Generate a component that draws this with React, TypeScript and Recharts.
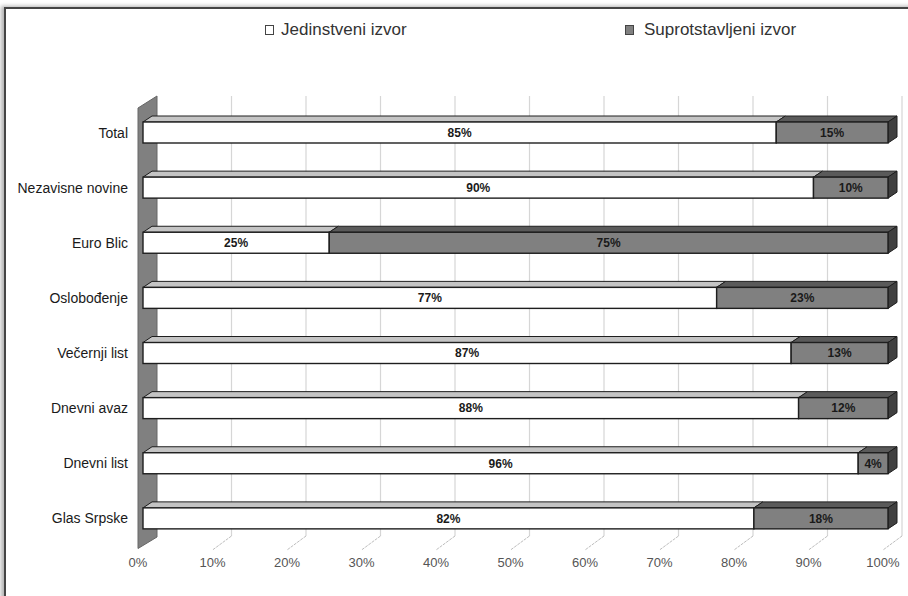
import { BarChart, Bar, XAxis, YAxis, CartesianGrid, LabelList } from "recharts";

const categories = [
  "Total",
  "Nezavisne novine",
  "Euro Blic",
  "Oslobođenje",
  "Večernji list",
  "Dnevni avaz",
  "Dnevni list",
  "Glas Srpske",
];
const jedinstveni = [85, 90, 25, 77, 87, 88, 96, 82];
const suprotstavljeni = [15, 10, 75, 23, 13, 12, 4, 18];
const xTicks = [0, 10, 20, 30, 40, 50, 60, 70, 80, 90, 100];

const data = categories.map((name, i) => ({
  name,
  jed: jedinstveni[i],
  sup: suprotstavljeni[i],
}));

const DX = 9;
const DY = 6;
const FONT = "Arial, 'Liberation Sans', sans-serif";

function Bar3D(props: any) {
  const { x, y, width, height, front, top, side, last } = props;
  if (width == null || width <= 0) return null;
  return (
    <g>
      <polygon
        points={`${x},${y} ${x + DX},${y - DY} ${x + width + DX},${y - DY} ${x + width},${y}`}
        fill={top}
        stroke="#1e1e1e"
        strokeWidth={1}
      />
      {last && (
        <polygon
          points={`${x + width},${y} ${x + width + DX},${y - DY} ${x + width + DX},${y + height - DY} ${x + width},${y + height}`}
          fill={side}
          stroke="#1e1e1e"
          strokeWidth={1}
        />
      )}
      <rect x={x} y={y} width={width} height={height} fill={front} stroke="#1e1e1e" strokeWidth={1.4} />
    </g>
  );
}

// back gridlines + floor connectors; the 0% line becomes the side wall
function BackLine(props: any) {
  const { x1, y1, y2, index } = props;
  if (index === 0) {
    return (
      <polygon
        key="wall"
        points={`${x1 - 5},${y1 + 3} ${x1 + 14},${y1 - 9} ${x1 + 14},${y2 - 9} ${x1 - 5},${y2 + 2.5}`}
        fill="#808080"
        stroke="#666"
      />
    );
  }
  return (
    <g key={`g${index}`}>
      <line x1={x1 + 14} x2={x1 + 14} y1={y1 - 9} y2={y2 - 10} stroke="#d6d6d6" strokeWidth={1.2} />
      <line x1={x1 + 14} x2={x1 - 5} y1={y2 - 10} y2={y2 + 4} stroke="#bdbdbd" strokeWidth={1} strokeDasharray="3 1" />
    </g>
  );
}

function XTick(props: any) {
  const { x, y, payload } = props;
  return (
    <text x={x - 5} y={y} dy="0.71em" textAnchor="middle" fill="#555" fontSize={13} fontFamily={FONT}>
      {payload.value}%
    </text>
  );
}

const pct = (v: any) => `${v}%`;

export default function App() {
  return (
    <div style={{ position: "absolute", left: 0, top: 0, width: 908, height: 596, overflow: "hidden", background: "#fff" }}>
      <div style={{ position: "absolute", left: 0, top: 0 }}>
        <BarChart
          width={908}
          height={596}
          data={data}
          layout="vertical"
          margin={{ top: 105, right: 20, bottom: 20, left: 13 }}
          barSize={21}
        >
          <CartesianGrid horizontal={false} vertical={BackLine} />
          <XAxis
            type="number"
            domain={[0, 100]}
            ticks={xTicks}
            axisLine={false}
            tickLine={false}
            tickSize={0}
            tickMargin={12}
            height={30}
            tick={XTick}
            interval={0}
          />
          <YAxis
            type="category"
            dataKey="name"
            width={130}
            axisLine={false}
            tickLine={false}
            tickSize={0}
            tickMargin={15}
            tick={{ fontSize: 14, fill: "#1a1a1a", fontFamily: FONT }}
            interval={0}
          />
          <Bar
            dataKey="jed"
            stackId="a"
            isAnimationActive={false}
            shape={(p: any) => <Bar3D {...p} front="#ffffff" top="#c4c4c4" side="#a0a0a0" last={false} />}
          >
            <LabelList dataKey="jed" position="center" formatter={pct} fill="#1a1a1a" fontSize={12} fontWeight="bold" fontFamily={FONT} />
          </Bar>
          <Bar
            dataKey="sup"
            stackId="a"
            isAnimationActive={false}
            shape={(p: any) => <Bar3D {...p} front="#808080" top="#5a5a5a" side="#404040" last={true} />}
          >
            <LabelList dataKey="sup" position="center" formatter={pct} fill="#1a1a1a" fontSize={12} fontWeight="bold" fontFamily={FONT} />
          </Bar>
        </BarChart>
      </div>
      <div
        style={{
          position: "absolute",
          top: 20,
          left: 0,
          width: 908,
          fontFamily: FONT,
          fontSize: 17,
          color: "#333",
        }}
      >
        <span style={{ position: "absolute", left: 265, display: "flex", alignItems: "center" }}>
          <span style={{ width: 7, height: 8, border: "1px solid #444", background: "#fff", marginRight: 7 }} />
          Jedinstveni izvor
        </span>
        <span style={{ position: "absolute", left: 625, display: "flex", alignItems: "center" }}>
          <span style={{ width: 7, height: 8, border: "1px solid #444", background: "#808080", marginRight: 10 }} />
          Suprotstavljeni izvor
        </span>
      </div>
      <div
        style={{
          position: "absolute",
          left: 4,
          top: 7,
          width: 940,
          height: 640,
          borderTop: "2px solid #454545",
          borderLeft: "2px solid #454545",
          boxShadow: "-3px -1px 4px rgba(0,0,0,0.3)",
          pointerEvents: "none",
        }}
      />
    </div>
  );
}
